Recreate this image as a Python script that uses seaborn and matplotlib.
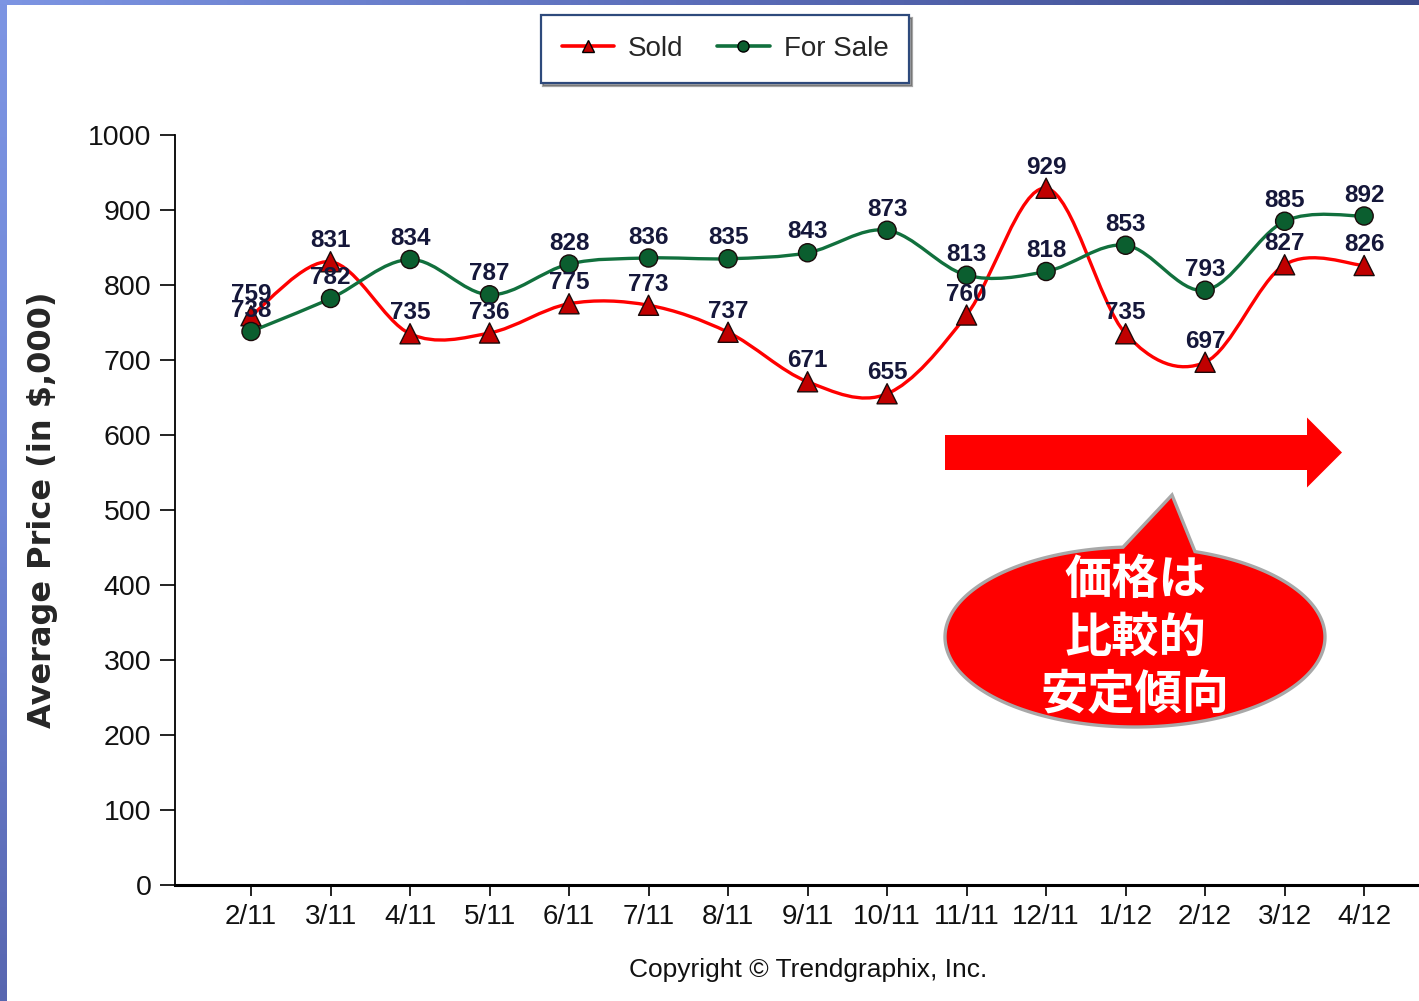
import numpy as np
import pandas as pd
import matplotlib.pyplot as plt
import seaborn as sns
from matplotlib.path import Path
from matplotlib.patches import PathPatch, FancyArrow, Polygon
from matplotlib.lines import Line2D
from matplotlib.colors import LinearSegmentedColormap

# data
months = ['2/11', '3/11', '4/11', '5/11', '6/11', '7/11', '8/11', '9/11',
          '10/11', '11/11', '12/11', '1/12', '2/12', '3/12', '4/12']
sold = [759, 831, 735, 736, 775, 773, 737, 671, 655, 760, 929, 735, 697, 827, 826]
for_sale = [738, 782, 834, 787, 828, 836, 835, 843, 873, 813, 818, 853, 793, 885, 892]
y_ticks = [0, 100, 200, 300, 400, 500, 600, 700, 800, 900, 1000]
series_names = ['Sold', 'For Sale']
callout_lines = ['価格は', '比較的', '安定傾向']

sns.set_style('white')
plt.rcParams['font.family'] = ['Liberation Sans', 'DejaVu Sans']

RED = '#ff0000'
GREEN = '#11703d'
narrow = ['Liberation Sans Narrow', 'Liberation Sans']

fig = plt.figure(figsize=(14.19, 10.01), dpi=100)
fig.patch.set_facecolor('white')

# blue slide border (top and left)
bg = fig.add_axes([0, 0, 1, 1], zorder=-10)
bg.set_xlim(0, 1419)
bg.set_ylim(1001, 0)
bg.axis('off')
top_cmap = LinearSegmentedColormap.from_list('top', ['#7d95e3', '#5a6cb8', '#3d4b8c'])
left_cmap = LinearSegmentedColormap.from_list('left', ['#7d95e3', '#6f86d6', '#5866b0'])
bg.imshow(np.linspace(0, 1, 256)[None, :], cmap=top_cmap, aspect='auto',
          extent=(0, 1419, 5, 0))
bg.imshow(np.linspace(0, 1, 256)[:, None], cmap=left_cmap, aspect='auto',
          extent=(0, 7, 1001, 0))

# main chart
ax = fig.add_axes([175 / 1419, 1 - 885 / 1001, 1 - 175 / 1419, 750 / 1001])
ax.patch.set_alpha(0)

idx = np.arange(len(months))
df = pd.DataFrame({
    'idx': np.concatenate([idx, idx]),
    'price': sold + for_sale,
    'series': ['Sold'] * len(sold) + ['For Sale'] * len(for_sale),
})


def smooth_path(xs, ys, tension=0.5):
    # cardinal spline through the points, as bezier segments
    pts = np.column_stack([xs, ys]).astype(float)
    n = len(pts)
    verts = [pts[0]]
    codes = [Path.MOVETO]
    for i in range(n - 1):
        p_prev = pts[i - 1] if i > 0 else pts[i]
        p_next = pts[i + 2] if i + 2 < n else pts[i + 1]
        c1 = pts[i] + tension / 3 * (pts[i + 1] - p_prev)
        c2 = pts[i + 1] - tension / 3 * (p_next - pts[i])
        verts += [c1, c2, pts[i + 1]]
        codes += [Path.CURVE4] * 3
    return Path(verts, codes)


ax.add_patch(PathPatch(smooth_path(idx, sold), fill=False, edgecolor=RED, lw=2.4, zorder=2))
ax.add_patch(PathPatch(smooth_path(idx, for_sale), fill=False, edgecolor=GREEN, lw=2.4, zorder=2))

sns.scatterplot(data=df, x='idx', y='price', hue='series', style='series', size='series',
                markers={'Sold': '^', 'For Sale': 'o'},
                palette={'Sold': '#c00000', 'For Sale': '#0b5e2f'},
                sizes={'Sold': 210, 'For Sale': 170},
                edgecolor='#1a0a0a', linewidth=1.0, legend=False, zorder=3, ax=ax)

for vals in (sold, for_sale):
    for i, v in zip(idx, vals):
        ax.annotate(str(v), (i, v), xytext=(0, 15), textcoords='offset points',
                    ha='center', va='center', fontsize=17.5, fontweight='bold',
                    color='#15173a', zorder=4)

ax.set_xlim(-0.956, 14.69)
ax.set_ylim(0, 1000)
ax.set_xticks(idx)
ax.set_xticklabels(months, family=narrow, fontsize=20)
ax.set_yticks(y_ticks)
ax.set_yticklabels([str(t) for t in y_ticks], fontsize=20.5)
ax.set_xlabel('')
ax.set_ylabel('')
sns.despine(ax=ax)
ax.spines['left'].set_linewidth(1.3)
ax.spines['bottom'].set_linewidth(2.2)
ax.spines['left'].set_color('black')
ax.spines['bottom'].set_color('black')
ax.tick_params(axis='y', direction='out', length=11, width=1.3, pad=6, colors='#111111', left=True)
ax.tick_params(axis='x', direction='out', length=8, width=1.3, pad=6, colors='#111111', bottom=True)

fig.text(43 / 1419, 1 - 510 / 1001, 'Average Price (in $,000)', rotation=90,
         ha='center', va='center', fontsize=23, fontweight='bold', family='DejaVu Sans')
fig.text(808 / 1419, 1 - 970 / 1001, 'Copyright \u00a9 Trendgraphix, Inc.',
         ha='center', va='center', fontsize=19, family=narrow, color='#111111')

handles = [
    Line2D([], [], color=RED, lw=2.6, marker='^', ms=9, mfc='#c00000', mec='black'),
    Line2D([], [], color=GREEN, lw=2.6, marker='o', ms=8, mfc='#0b5e2f', mec='black'),
]
leg = fig.legend(handles, series_names, loc='center', bbox_to_anchor=(725 / 1419, 1 - 49 / 1001),
                 ncol=2, frameon=True, fancybox=False, shadow=True, fontsize=20,
                 handlelength=1.9, handletextpad=0.5, columnspacing=1.2,
                 borderpad=0.75, edgecolor='#2e4a7c')
leg.get_frame().set_linewidth(1.6)

# arrow and speech bubble overlay, in pixel coordinates
ov = fig.add_axes([0, 0, 1, 1], zorder=10)
ov.set_xlim(0, 1419)
ov.set_ylim(1001, 0)
ov.axis('off')
ov.add_patch(FancyArrow(945, 452.5, 397, 0, width=35, head_width=70, head_length=35,
                        length_includes_head=True, color=RED, lw=0))

cx, cy, a, b = 1135, 637, 190, 90
th_r = np.arccos((1195 - cx) / a)
th_l = np.arccos((1123 - cx) / a)
th = np.linspace(th_r, th_l - 2 * np.pi, 300)
pts = np.column_stack([cx + a * np.cos(th), cy - b * np.sin(th)])
pts = np.vstack([pts, [[1172, 495]]])
ov.add_patch(Polygon(pts, closed=True, facecolor=RED, edgecolor='#a8a8a8', lw=2.4))
for line, yy in zip(callout_lines, [580, 638, 695]):
    ov.text(1135, yy, line, ha='center', va='center', fontsize=34, fontweight='bold',
            color='white', family=['Noto Sans CJK JP', 'DejaVu Sans'])

fig.savefig('out.png', dpi=100)
